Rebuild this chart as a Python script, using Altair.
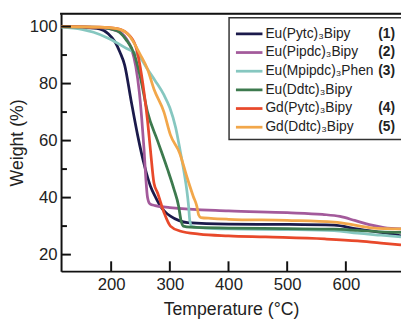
import altair as alt
import pandas as pd

# ---- data ----
names = ["Eu(Pytc)₃Bipy", "Eu(Pipdc)₃Bipy", "Eu(Mpipdc)₃Phen",
         "Eu(Ddtc)₃Bipy", "Gd(Pytc)₃Bipy", "Gd(Ddtc)₃Bipy"]
nums = ["(1)", "(2)", "(3)", "", "(4)", "(5)"]
colors = ["#1b1a4b", "#a35a9b", "#86c7c0", "#3d7a4e", "#e8492b", "#f2a74a"]

t1 = [115, 150, 180, 195, 207, 215, 223, 234, 245, 257, 267, 276, 284, 292, 301, 315, 330, 400, 500, 580, 618, 660, 694]
w1 = [100, 99.7, 99.2, 97.5, 94.5, 91, 86.5, 74, 62, 51, 44, 40, 37, 35, 33.5, 32, 31.2, 30.7, 30.6, 30.3, 29, 27.8, 26.6]

t2 = [115, 180, 210, 225, 235, 242, 248, 252, 256, 259, 262, 266, 275, 300, 400, 500, 560, 590, 615, 640, 665, 694]
w2 = [100, 99.6, 98.5, 96, 92, 86, 77, 68, 57, 47, 40, 37.8, 37.2, 36.5, 35.3, 34.7, 34.1, 33.4, 32, 30.5, 29.5, 29]

t3 = [115, 150, 170, 194, 223, 250, 262, 275, 290, 300, 310, 318, 325, 329, 332, 334, 338, 360, 400, 500, 580, 620, 660, 694]
w3 = [99.8, 99, 98, 96, 92.7, 89, 85, 81, 76, 71.5, 64.5, 56, 48, 42.5, 37, 32, 29.8, 29.3, 29, 28.8, 28.4, 27.5, 26.8, 26.2]

t4 = [115, 180, 210, 225, 240, 250, 262, 279, 296, 307, 315, 319, 323, 335, 400, 500, 580, 620, 660, 694]
w4 = [100, 99.7, 98.5, 95.5, 90, 82, 70, 60, 50, 43, 37, 32, 30, 29.6, 29.3, 29.1, 28.9, 28.5, 28, 27.8]

t5 = [115, 180, 210, 228, 242, 248, 256, 262, 267, 273, 279, 290, 301, 317, 350, 400, 463, 564, 620, 660, 694]
w5 = [100, 99.8, 99.3, 97.5, 93, 87.6, 77, 67, 56.6, 45, 41.7, 34.8, 30, 28.3, 27.2, 26.6, 26.2, 25.5, 24.8, 24, 23.4]

t6 = [115, 180, 210, 230, 250, 262, 273, 290, 301, 317, 329, 340, 346, 349, 353, 370, 400, 500, 580, 620, 647, 670, 694]
w6 = [100, 99.8, 99.3, 97, 90, 85, 78, 70, 62, 55.5, 47.3, 40.4, 37, 34, 33, 32.7, 32.4, 32, 31.4, 30.2, 29.3, 29.1, 29]

x_ticks = [200, 300, 400, 500, 600]
y_ticks = [20, 40, 60, 80, 100]
y_minor = [30, 50, 70, 90]

# ---- build tables ----
rows = []
for name, ts, ws in zip(names, [t1, t2, t3, t4, t5, t6], [w1, w2, w3, w4, w5, w6]):
    for t, w in zip(ts, ws):
        rows.append({"series": name, "T": t, "W": w})
df = pd.DataFrame(rows)
leg = pd.DataFrame({"series": names, "num": nums, "i": list(range(len(names)))})

W, H = 346, 262
FONT = "Liberation Sans"
xs = alt.Scale(domain=[114.6, 694], nice=False, zero=False)
ys = alt.Scale(domain=[14.2, 104.5], nice=False, zero=False)
cscale = alt.Scale(domain=names, range=colors)

lines = alt.Chart(df).mark_line(clip=True, strokeWidth=2.8, interpolate="monotone").encode(
    x=alt.X("T:Q", scale=xs, title="Temperature (°C)",
            axis=alt.Axis(values=x_ticks, tickSize=0, labelPadding=6, grid=False,
                          domainWidth=2, domainColor="#111", labelFontSize=17,
                          labelColor="#222", titleFontSize=18, titleColor="#222",
                          titleFontWeight="normal", titlePadding=8,
                          labelFont=FONT, titleFont=FONT)),
    y=alt.Y("W:Q", scale=ys, title="Weight (%)",
            axis=alt.Axis(values=y_ticks, tickSize=0, labelPadding=4, grid=False,
                          domainWidth=2, domainColor="#111", labelFontSize=17,
                          labelColor="#222", titleFontSize=18, titleColor="#222",
                          titleFontWeight="normal", titlePadding=3,
                          labelFont=FONT, titleFont=FONT)),
    color=alt.Color("series:N", scale=cscale, legend=None),
    detail="series:N",
)

xt = alt.Chart(pd.DataFrame({"v": x_ticks})).mark_rule(color="#111", strokeWidth=2).encode(
    x=alt.X("v:Q", scale=xs), y=alt.value(H), y2=alt.value(H - 10))
yt = alt.Chart(pd.DataFrame({"v": y_ticks})).mark_rule(color="#111", strokeWidth=2).encode(
    y=alt.Y("v:Q", scale=ys), x=alt.value(0), x2=alt.value(10))
ym = alt.Chart(pd.DataFrame({"v": y_minor})).mark_rule(color="#111", strokeWidth=2).encode(
    y=alt.Y("v:Q", scale=ys), x=alt.value(0), x2=alt.value(6))
top = alt.Chart(alt.Data(values=[{}])).mark_rule(color="#111", strokeWidth=2).encode(
    y=alt.value(0), x=alt.value(-1), x2=alt.value(W + 2))

box = alt.Chart(alt.Data(values=[{}])).mark_rect(fill="white", stroke="#333", strokeWidth=1.5).encode(
    x=alt.value(171), x2=alt.value(W + 1), y=alt.value(4), y2=alt.value(128))

legbase = alt.Chart(leg).transform_calculate(py="20.5 + 19 * datum.i")
legl = legbase.mark_rule(strokeWidth=2.8).encode(
    x=alt.value(178), x2=alt.value(205),
    y=alt.Y("py:Q", scale=None, axis=None),
    color=alt.Color("series:N", scale=cscale, legend=None))
legt = legbase.mark_text(align="left", baseline="middle", fontSize=14, font=FONT, color="#222").encode(
    x=alt.value(208), y=alt.Y("py:Q", scale=None, axis=None), text="series:N")
legn = legbase.mark_text(align="right", baseline="middle", fontSize=14, font=FONT,
                         fontWeight="bold", color="#222").encode(
    x=alt.value(340), y=alt.Y("py:Q", scale=None, axis=None), text="num:N")

chart = alt.layer(lines, xt, yt, ym, top, box, legl, legt, legn).properties(
    width=W, height=H,
    autosize=alt.AutoSizeParams(type="none"),
    padding={"left": 54, "top": 3, "right": 0, "bottom": 53},
).configure_view(stroke=None).configure(background="white")

chart.save("out.html", embed_options={"renderer": "svg", "actions": False})
